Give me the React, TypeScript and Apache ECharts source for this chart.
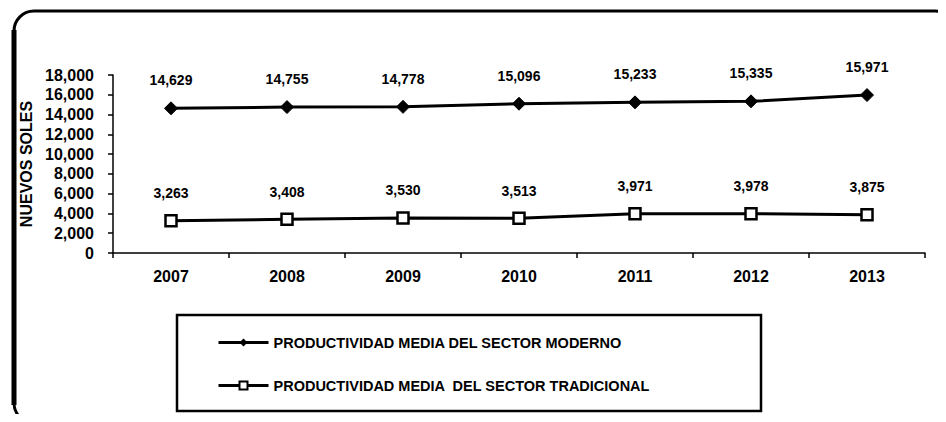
import React, { useEffect, useRef } from "react";
import * as echarts from "echarts";

const years = ["2007", "2008", "2009", "2010", "2011", "2012", "2013"];
const moderno = [14629, 14755, 14778, 15096, 15233, 15335, 15971];
const tradicional = [3263, 3408, 3530, 3513, 3971, 3978, 3875];
const seriesNames = [
  "PRODUCTIVIDAD MEDIA DEL SECTOR MODERNO",
  "PRODUCTIVIDAD MEDIA  DEL SECTOR TRADICIONAL",
];
const yAxisName = "NUEVOS SOLES";

const FONT = "'Liberation Sans', Arial, sans-serif";

const fmt = (v: number) => v.toLocaleString("en-US");

export default function App() {
  const ref = useRef<HTMLDivElement>(null);
  useEffect(() => {
    if (!ref.current) return;
    const chart = echarts.init(ref.current, null, { renderer: "svg" });
    chart.setOption({
      animation: false,
      backgroundColor: "#fff",
      textStyle: { fontFamily: FONT, color: "#000" },
      grid: { left: 113, right: 21, top: 75, bottom: 169, containLabel: false },
      xAxis: {
        type: "category",
        data: years,
        boundaryGap: true,
        axisLine: { lineStyle: { color: "#000", width: 1.5 } },
        axisTick: { show: true, length: 5, lineStyle: { color: "#000", width: 1.5 } },
        axisLabel: { color: "#000", fontSize: 16, fontWeight: "bold", margin: 15, fontFamily: FONT },
      },
      yAxis: {
        type: "value",
        min: 0,
        max: 18000,
        interval: 2000,
        name: yAxisName,
        nameLocation: "middle",
        nameGap: 76,
        nameRotate: 90,
        nameTextStyle: { color: "#000", fontSize: 16, fontWeight: "bold", fontFamily: FONT },
        splitLine: { show: false },
        axisLine: { show: true, lineStyle: { color: "#000", width: 1.5 } },
        axisTick: { show: true, length: 5, lineStyle: { color: "#000", width: 1.5 } },
        axisLabel: {
          color: "#000",
          fontSize: 16,
          fontWeight: "bold",
          margin: 19,
          fontFamily: FONT,
          formatter: (v: number) => fmt(v),
        },
      },
      legend: {
        orient: "vertical",
        left: 212,
        top: 330,
        itemWidth: 50,
        itemHeight: 10,
        itemGap: 28,
        lineStyle: { width: 3 },
        textStyle: { color: "#000", fontSize: 14.5, fontWeight: "bold", fontFamily: FONT },
        data: seriesNames,
      },
      series: [
        {
          name: seriesNames[0],
          type: "line",
          data: moderno,
          symbol: "diamond",
          symbolSize: 13,
          lineStyle: { color: "#000", width: 3 },
          itemStyle: { color: "#000", borderColor: "#000" },
          label: {
            show: true,
            position: "top",
            distance: 14,
            color: "#000",
            fontSize: 14,
            fontWeight: "bold",
            fontFamily: FONT,
            formatter: (p: any) => fmt(p.value),
          },
        },
        {
          name: seriesNames[1],
          type: "line",
          data: tradicional,
          symbol: "rect",
          symbolSize: 11,
          lineStyle: { color: "#000", width: 3 },
          itemStyle: { color: "#fff", borderColor: "#000", borderWidth: 2.5 },
          label: {
            show: true,
            position: "top",
            distance: 14,
            color: "#000",
            fontSize: 14,
            fontWeight: "bold",
            fontFamily: FONT,
            formatter: (p: any) => fmt(p.value),
          },
        },
      ],
      graphic: [
        {
          type: "rect",
          shape: { x: 14, y: 11, width: 941, height: 412, r: 20 },
          style: { fill: "none", stroke: "#000", lineWidth: 3 },
          silent: true,
        },
        {
          type: "line",
          shape: { x1: 14, y1: 30, x2: 14, y2: 405 },
          style: { stroke: "#000", lineWidth: 5 },
          silent: true,
        },
        {
          type: "rect",
          shape: { x: 177, y: 315, width: 584, height: 96 },
          style: { fill: "none", stroke: "#000", lineWidth: 2.5 },
          silent: true,
        },
      ],
    });
    return () => chart.dispose();
  }, []);
  return <div ref={ref} style={{ width: 946, height: 422, margin: -8, overflow: "hidden" }} />;
}
